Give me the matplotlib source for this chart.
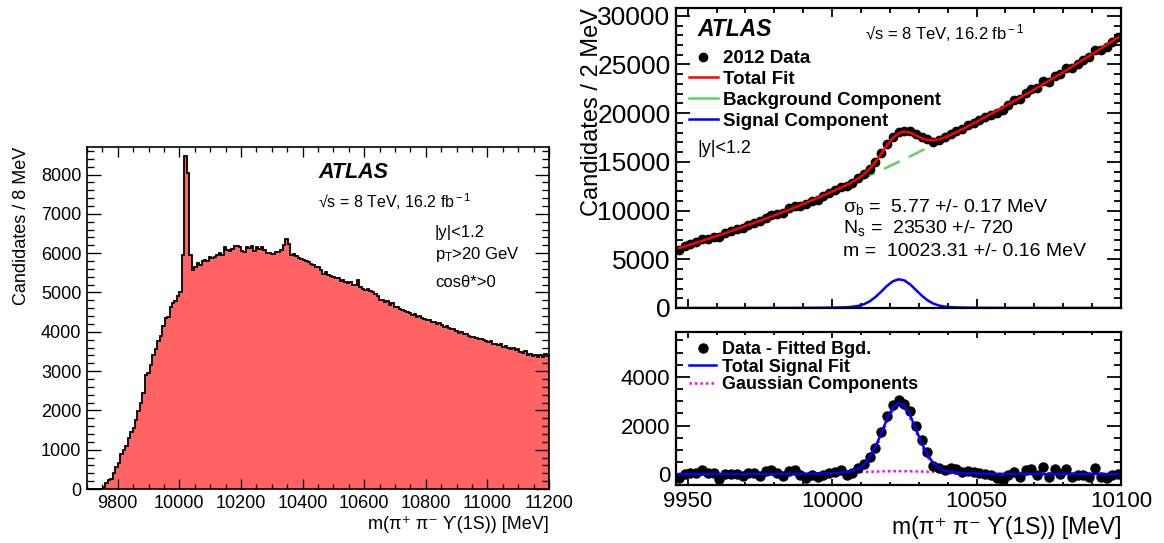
import numpy as np
import matplotlib.pyplot as plt
from matplotlib.ticker import MultipleLocator
from matplotlib.lines import Line2D

plt.rcParams['font.family'] = ['Liberation Sans', 'DejaVu Sans']
plt.rcParams['mathtext.fontset'] = 'custom'
plt.rcParams['mathtext.rm'] = 'Liberation Sans'
plt.rcParams['mathtext.it'] = 'Liberation Sans:italic'
plt.rcParams['mathtext.bf'] = 'Liberation Sans:bold'

# ---- left: 8 MeV histogram, first edge 9696 MeV
hist_lo = 9696
hist_bin = 8
hist_counts = [
    0, 0, 0, 0, 0, 0, 0,
    60, 150, 220, 250, 420, 560, 650, 880, 990, 1100, 1300, 1450, 1560, 1760,
    1980, 2200, 2450, 2900, 2950, 3150, 3400, 3560, 3760, 3900, 4150,
    4340, 4380, 4640, 4720, 4780, 4900, 5020, 5960, 8470, 8040, 5960, 5575,
    5650, 5760, 5700, 5790, 5830, 5810, 5900, 5880, 5900, 5960,
    6010, 5950, 6160, 6090, 6060, 6100, 6170, 6180, 6150, 6060,
    6030, 6150, 6120, 6170, 6060, 6150, 6100, 6150, 6080, 6000,
    6010, 5990, 5970, 6030, 6020, 6070, 6200, 6360, 6240, 5960,
    5990, 5920, 5880, 5860, 5820, 5800, 5780, 5730, 5700, 5640,
    5660, 5560, 5480, 5520, 5440, 5420, 5400, 5360, 5380, 5300,
    5320, 5260, 5240, 5270, 5200, 5180, 5310, 5130, 5080, 5060,
    5080, 5040, 5000, 4950, 4900, 4800, 4820, 4760, 4780, 4680,
    4740, 4620, 4640, 4580, 4560, 4540, 4500, 4470, 4420, 4460,
    4380, 4400, 4350, 4330, 4290, 4310, 4250, 4260, 4200, 4230,
    4180, 4130, 4150, 4100, 4060, 4080, 4020, 3980, 3990, 3940,
    3950, 3900, 3880, 3860, 3840, 3810, 3820, 3780, 3760, 3740,
    3770, 3700, 3690, 3660, 3680, 3620, 3640, 3590, 3570, 3600,
    3530, 3550, 3480, 3460, 3500, 3420, 3440, 3380, 3400, 3360,
    3420, 3350, 3430, 3380,
]

# ---- right: 2 MeV bins, centres 9947 ... 10099
mass_lo = 9947
mass_bin = 2
bg_fit = [
    6140, 6323, 6509, 6697, 6888, 7081, 7277, 7477, 7678, 7883,
    8090, 8300, 8513, 8728, 8946, 9167, 9390, 9617, 9845, 10077,
    10312, 10549, 10789, 11031, 11276, 11524, 11775, 12029, 12285, 12544,
    12805, 13070, 13337, 13606, 13879, 14154, 14432, 14713, 14996, 15282,
    15571, 15862, 16157, 16453, 16753, 17056, 17361, 17669, 17979, 18292,
    18608, 18927, 19249, 19573, 19900, 20229, 20561, 20897, 21234, 21575,
    21918, 22264, 22613, 22964, 23318, 23675, 24034, 24397, 24761, 25129,
    25500, 25873, 26249, 26627, 27008, 27392, 27779,
]
sig_narrow = [
    0, 0, 0, 0, 0, 0, 0, 0, 0, 0,
    0, 0, 0, 0, 0, 0, 0, 0, 0, 0,
    0, 0, 0, 0, 0, 0, 0, 2, 6, 20,
    55, 135, 299, 584, 1017, 1569, 2150, 2616, 2826, 2711,
    2309, 1746, 1173, 699, 370, 174, 73, 27, 9, 3,
    1, 0, 0, 0, 0, 0, 0, 0, 0, 0,
    0, 0, 0, 0, 0, 0, 0, 0, 0, 0,
    0, 0, 0, 0, 0, 0, 0,
]
sig_broad = [
    0, 0, 0, 0, 0, 0, 0, 0, 0, 0,
    0, 0, 0.3, 0.4, 0.7, 1.0, 1.5, 2.2, 3.1, 4.5,
    6.3, 8.6, 11.7, 15.6, 20, 26, 32, 40, 48, 57,
    66, 76, 86, 95, 103, 110, 115, 119, 120, 119,
    116, 111, 105, 97, 88, 79, 70, 60, 50, 42,
    34, 27, 21, 16, 12, 9, 7, 5, 3, 2,
    2, 1, 1, 1, 0, 0, 0, 0, 0, 0,
    0, 0, 0, 0, 0, 0, 0,
]
# data minus fitted background
resid = [
    -150, 20, 60, 30, 180, 40, 60, -220, 20, 10,
    -10, -80, 30, 40, -60, 110, 160, 40, -80, 140,
    150, -30, -150, -40, -140, -20, 40, 90, 170, -30,
    40, 230, 430, 700, 1080, 1750, 2400, 2850, 3030, 2900,
    2600, 2000, 1400, 900, 320, 230, 170, 230, 220, 100,
    130, 90, 30, 20, -40, -180, -250, -40, 100, -110,
    160, 190, -40, 300, -110, 190, 20, 190, -110, -40,
    -50, -110, 230, -110, -180, -50, 10,
]

edges = hist_lo + hist_bin * np.arange(len(hist_counts) + 1)
mass = mass_lo + mass_bin * np.arange(len(bg_fit))
bg = np.array(bg_fit, float)
narrow = np.array(sig_narrow, float)
broad = np.array(sig_broad, float)
sig = narrow + broad
res = np.array(resid, float)
data = bg + res
total = bg + sig

xlab = 'm(\u03c0\u207a \u03c0\u207b \u03d2(1S)) [MeV]'
sqrts = '\u221as = 8 TeV, 16.2 fb$^{\\rm -1}$'


def root_style(ax, lw, ylen, xlen):
    ax.tick_params(which='both', direction='in', top=True, right=True, width=lw * 0.8)
    ax.tick_params(axis='y', which='major', length=ylen)
    ax.tick_params(axis='y', which='minor', length=ylen / 2)
    ax.tick_params(axis='x', which='major', length=xlen)
    ax.tick_params(axis='x', which='minor', length=xlen / 2)
    for s in ax.spines.values():
        s.set_linewidth(lw)


fig = plt.figure(figsize=(11.64, 5.43), dpi=100)

# ---------------- left panel
ax1 = fig.add_axes([0.0747, 0.0994, 0.397, 0.6298])
ax1.stairs(hist_counts, edges, fill=True, color='#ff6363', lw=0)
ax1.stairs(hist_counts, edges, color='k', lw=1.3)
ax1.set_xlim(9700, 11200)
ax1.set_ylim(0, 8700)
ax1.xaxis.set_major_locator(MultipleLocator(200))
ax1.xaxis.set_minor_locator(MultipleLocator(50))
ax1.yaxis.set_major_locator(MultipleLocator(1000))
ax1.yaxis.set_minor_locator(MultipleLocator(200))
root_style(ax1, 1.2, 10, 7.4)
ax1.tick_params(labelsize=13, pad=4)
ax1.set_xlabel(xlab, fontsize=13, loc='right')
ax1.xaxis.set_label_coords(1.0, -0.079)
ax1.set_ylabel('Candidates / 8 MeV', fontsize=13, loc='top')
ax1.yaxis.set_label_coords(-0.123, 1.0)
ax1.text(0.502, 0.927, 'ATLAS', transform=ax1.transAxes, fontsize=15.5,
         fontweight='bold', fontstyle='italic', va='center')
ax1.text(0.500, 0.839, sqrts, transform=ax1.transAxes, fontsize=11.5, va='center')
ax1.text(0.753, 0.751, '|y|<1.2', transform=ax1.transAxes, fontsize=12, va='center')
ax1.text(0.753, 0.687, 'p$_{\\rm T}$>20 GeV', transform=ax1.transAxes, fontsize=12, va='center')
ax1.text(0.753, 0.605, 'cos\u03b8*>0', transform=ax1.transAxes, fontsize=12, va='center')

# ---------------- right top panel
ax2 = fig.add_axes([0.5808, 0.4328, 0.3823, 0.5525])
ax2.plot(mass, sig, color='#0000ff', lw=1.8)
ax2.plot(mass, bg, color='#5fd35f', lw=1.8, ls=(0, (7, 4)))
ax2.plot(mass, data, 'o', color='k', ms=6)
ax2.plot(mass, total, color='#ff0000', lw=1.8)
ax2.set_xlim(9946, 10100)
ax2.set_ylim(0, 30800)
ax2.xaxis.set_major_locator(MultipleLocator(50))
ax2.xaxis.set_minor_locator(MultipleLocator(10))
ax2.yaxis.set_major_locator(MultipleLocator(5000))
ax2.yaxis.set_minor_locator(MultipleLocator(1000))
root_style(ax2, 1.6, 10, 6.5)
ax2.tick_params(labelsize=19, pad=4, labelbottom=False)
ax2.set_ylabel('Candidates / 2 MeV', fontsize=17, loc='top')
ax2.yaxis.set_label_coords(-0.165, 1.0)
ax2.text(0.049, 0.927, 'ATLAS', transform=ax2.transAxes, fontsize=16.5,
         fontweight='bold', fontstyle='italic', va='center')
ax2.text(0.425, 0.917, sqrts, transform=ax2.transAxes, fontsize=12, va='center')
ax2.text(0.049, 0.533, '|y|<1.2', transform=ax2.transAxes, fontsize=13, va='center')
ax2.text(0.375, 0.337, '\u03c3$_{\\rm b}$ =  5.77 +/- 0.17 MeV', transform=ax2.transAxes,
         fontsize=14, va='center')
ax2.text(0.375, 0.267, 'N$_{\\rm s}$ =  23530 +/- 720', transform=ax2.transAxes,
         fontsize=14, va='center')
ax2.text(0.375, 0.187, 'm =  10023.31 +/- 0.16 MeV', transform=ax2.transAxes,
         fontsize=14, va='center')
h_top = [Line2D([], [], marker='o', color='k', ls='none', ms=6),
         Line2D([], [], color='#ff0000', lw=1.8),
         Line2D([], [], color='#5fd35f', lw=1.8),
         Line2D([], [], color='#0000ff', lw=1.8)]
ax2.legend(h_top, ['2012 Data', 'Total Fit', 'Background Component', 'Signal Component'],
           loc='upper left', bbox_to_anchor=(0.03, 0.86), frameon=False,
           borderpad=0, borderaxespad=0, handlelength=1.5, handletextpad=0.3,
           labelspacing=0.2, prop={'weight': 'bold', 'size': 13.5})

# ---------------- right bottom panel
ax3 = fig.add_axes([0.5808, 0.1068, 0.3823, 0.2818])
ax3.plot(mass, narrow, color='#ff00ff', lw=1.8, ls=(0, (1, 1.2)))
ax3.plot(mass, broad, color='#ff00ff', lw=1.8, ls=(0, (1, 1.2)))
ax3.plot(mass, res, 'o', color='k', ms=6.5)
ax3.plot(mass, sig, color='#0000ff', lw=1.8)
ax3.set_xlim(9946, 10100)
ax3.set_ylim(-450, 5850)
ax3.xaxis.set_major_locator(MultipleLocator(50))
ax3.xaxis.set_minor_locator(MultipleLocator(10))
ax3.yaxis.set_major_locator(MultipleLocator(2000))
ax3.yaxis.set_minor_locator(MultipleLocator(500))
root_style(ax3, 1.6, 10, 4)
ax3.tick_params(labelsize=16, pad=4)
ax3.set_xlabel(xlab, fontsize=16.5, loc='right')
ax3.xaxis.set_label_coords(1.0, -0.2)
h_bot = [Line2D([], [], marker='o', color='k', ls='none', ms=6.5),
         Line2D([], [], color='#0000ff', lw=1.8),
         Line2D([], [], color='#ff00ff', lw=1.8, ls=(0, (1, 1.2)))]
ax3.legend(h_bot, ['Data - Fitted Bgd.', 'Total Signal Fit', 'Gaussian Components'],
           loc='upper left', bbox_to_anchor=(0.03, 0.94), frameon=False,
           borderpad=0, borderaxespad=0, handlelength=1.5, handletextpad=0.3,
           labelspacing=0.02, prop={'weight': 'bold', 'size': 13})

fig.savefig('out.png', dpi=100)
